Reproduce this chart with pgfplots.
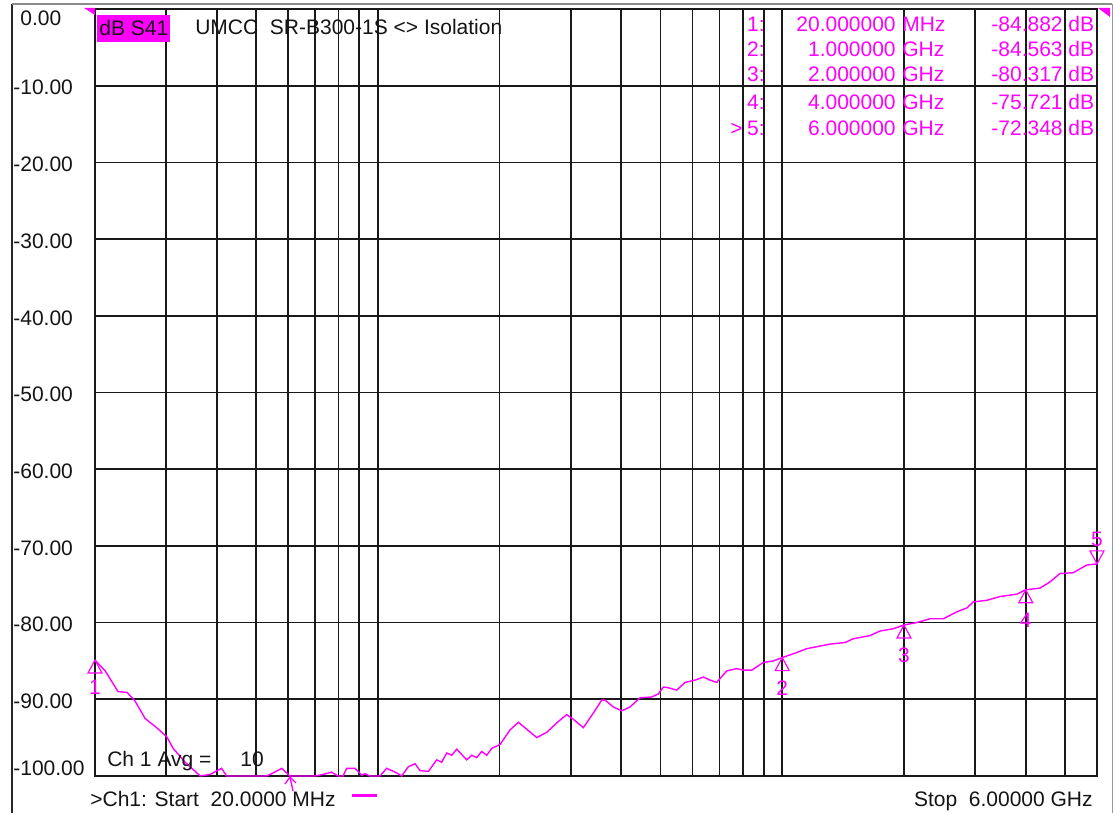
\documentclass[border=0pt]{standalone}
\usepackage{pgfplots}
\pgfplotsset{compat=1.18}
\usepackage{fontspec}
\setmainfont{Liberation Sans}
\definecolor{mag}{RGB}{255,0,255}
\definecolor{txt}{RGB}{20,20,20}
\newcommand\f{\fontsize{12.6}{14}\selectfont}
\pgfdeclareplotmark{tup}{%
 \pgfpathmoveto{\pgfqpoint{0pt}{0pt}}%
 \pgfpathlineto{\pgfqpoint{-4.2pt}{-7.8pt}}%
 \pgfpathlineto{\pgfqpoint{4.2pt}{-7.8pt}}%
 \pgfpathclose\pgfusepathqstroke}
\pgfdeclareplotmark{tdown}{%
 \pgfpathmoveto{\pgfqpoint{0pt}{0pt}}%
 \pgfpathlineto{\pgfqpoint{-4.2pt}{7.8pt}}%
 \pgfpathlineto{\pgfqpoint{4.2pt}{7.8pt}}%
 \pgfpathclose\pgfusepathqstroke}
\begin{document}
\begin{tikzpicture}
\begin{axis}[
  scale only axis, width=601.2pt, height=460.2pt,
  xmode=log, xmin=20, xmax=6000, ymin=-100, ymax=0,
  xtick={30,40,50,60,70,80,90,100,200,300,400,500,600,700,800,900,1000,2000,3000,4000,5000},
  xticklabels={}, minor xtick={}, xminorgrids=false,
  ytick={-100,-90,-80,-70,-60,-50,-40,-30,-20,-10,0},
  yticklabels={{\raisebox{6pt}[\height][\depth]{-100.00}},-90.00,-80.00,-70.00,-60.00,-50.00,-40.00,-30.00,-20.00,-10.00,{\raisebox{-4.2pt}[\height][\depth]{\phantom{-}0.00}}},
  yticklabel style={anchor=west, inner sep=0pt, xshift=-49.2pt, yshift=-1.2pt, font=\f, text=txt},
  major tick length=0pt, minor tick length=0pt,
  grid=major, major grid style={line width=1.05pt, black!90},
  axis line style={line width=1.05pt, black!90},
  clip=false,
]
\addplot[mag, line width=0.85pt] coordinates {
(20,-84.9) (21.2,-86.3) (22.8,-89.0) (24.0,-89.1) (25.1,-90.2) (26.6,-92.5) (28.4,-93.7) (30.1,-94.9) (31.2,-96.4) (33.4,-98.2) (36.4,-100) (38.5,-99.8) (41.1,-99.0) (42.3,-100) (53.0,-100) (54.2,-99.8) (57.9,-99.0) (60.7,-100) (70.0,-100) (73.2,-99.8) (76.9,-99.5) (79.8,-100) (82.1,-100) (83.8,-99.0) (87.9,-99.0) (91.3,-99.9) (93.0,-99.7) (95.7,-100) (101.3,-100) (105.2,-99.0) (111.4,-99.6) (114.6,-100) (119.0,-98.8) (123.7,-98.4) (127.2,-99.3) (133.4,-99.4) (139.9,-97.9) (143.9,-98.2) (148.1,-97.0) (152.4,-97.3) (156.8,-96.5) (166.0,-97.9) (170.8,-97.3) (175.7,-97.6) (180.7,-96.8) (186.0,-97.3) (191.3,-96.4) (200.6,-95.9) (212.3,-94.0) (222.6,-93.0) (233.5,-93.9) (247.2,-95.0) (261.7,-94.3) (279.5,-92.9) (293.2,-92.0) (304.4,-92.6) (322.3,-93.7) (341.2,-91.8) (357.9,-90.1) (364.7,-90.1) (382.3,-91.0) (401.1,-91.5) (420.6,-91.0) (445.2,-89.8) (475.8,-89.7) (494.0,-89.3) (508.3,-88.4) (523.0,-88.5) (548.5,-88.8) (575.1,-87.8) (608.8,-87.5) (638.2,-87.1) (663.0,-87.5) (688.7,-87.8) (729.1,-86.3) (771.9,-86.0) (801.5,-86.2) (840.7,-86.2) (898.0,-85.2) (950.6,-85.0) (1000,-84.563) (1086,-83.9) (1150,-83.4) (1228,-83.1) (1313,-82.8) (1430,-82.6) (1499,-82.1) (1648,-81.7) (1745,-81.1) (1882,-80.8) (2000,-80.317) (2150,-80.0) (2319,-79.5) (2502,-79.5) (2700,-78.6) (2858,-78.1) (2968,-77.3) (3203,-77.1) (3455,-76.6) (3799,-76.3) (4000,-75.721) (4338,-75.5) (4591,-74.7) (4860,-73.6) (5243,-73.5) (5657,-72.5) (6000,-72.348)
};
\addplot[mag, line width=0.7pt, only marks, mark=tup] coordinates {(20,-84.882) (1000,-84.563) (2000,-80.317) (4000,-75.721)};
\addplot[mag, line width=0.7pt, only marks, mark=tdown] coordinates {(6000,-72.348)};
\node[anchor=north, inner sep=0pt, font=\f, text=mag, yshift=-12pt] at (axis cs:20,-84.882) {1};
\node[anchor=north, inner sep=0pt, font=\f, text=mag, yshift=-14pt] at (axis cs:1000,-84.563) {2};
\node[anchor=north, inner sep=0pt, font=\f, text=mag, yshift=-13.2pt] at (axis cs:2000,-80.317) {3};
\node[anchor=north, inner sep=0pt, font=\f, text=mag, yshift=-14pt] at (axis cs:4000,-75.721) {4};
\node[anchor=south, inner sep=0pt, font=\f, text=mag, yshift=10pt] at (axis cs:6000,-72.348) {5};
\end{axis}
\begin{scope}[x=0.6pt, y=-0.6pt, xshift=-57pt, yshift=465.6pt]
\path (0,0) rectangle (1115,813);
\draw[black!85, line width=1.2pt] (12,4) -- (12,813);
\draw[black!45, line width=1pt] (12,4) -- (1112,4);
\draw[black!40, line width=0.6pt] (1112,4) -- (1112,813);
\fill[mag] (84,8) -- (95,8) -- (95,15) -- cycle;
\fill[mag] (1098,8) -- (1110,8) -- (1110,17) -- cycle;
\node[fill=mag, inner xsep=1.2pt, inner ysep=0pt, minimum height=16pt, anchor=west, font=\f, text=txt] at (97,28.5) {dB S41};
\node[anchor=base west, inner sep=0pt, font=\f, text=txt] at (195,35) {UMCC~~SR-B300-1S <> Isolation};
% marker table
\foreach \y/\n/\fr/\u/\v in {32/1:/20.000000/MHz/-84.882, 57/2:/1.000000/GHz/-84.563, 82/3:/2.000000/GHz/-80.317, 110/4:/4.000000/GHz/-75.721, 136/5:/6.000000/GHz/-72.348}{
  \node[anchor=base east, inner sep=0pt, font=\f, text=mag] at (765,\y) {\n};
  \node[anchor=base east, inner sep=0pt, font=\f, text=mag] at (896,\y) {\fr};
  \node[anchor=base west, inner sep=0pt, font=\f, text=mag] at (902,\y) {\u};
  \node[anchor=base east, inner sep=0pt, font=\f, text=mag] at (1063,\y) {\v};
  \node[anchor=base west, inner sep=0pt, font=\f, text=mag] at (1068,\y) {dB};
}
\node[anchor=base west, inner sep=0pt, font=\f, text=mag] at (730,136) {>};
\node[anchor=base west, inner sep=0pt, font=\f, text=txt] at (107,767) {Ch 1 Avg =};
\node[anchor=base west, inner sep=0pt, font=\f, text=txt] at (240,767) {10};
\node[anchor=base west, inner sep=0pt, font=\f, text=txt] at (90,807) {>Ch1: Start~~20.0000 MHz};
\draw[mag, line width=1.8pt] (352,796) -- (377,796);
\node[anchor=base east, inner sep=0pt, font=\f, text=txt] at (1093,807) {Stop~~6.00000 GHz};
\draw[mag, line width=0.8pt] (290,777) -- (293,791);
\draw[mag, line width=0.8pt] (285,784) -- (290,777) -- (296,783);
\end{scope}
\end{tikzpicture}
\end{document}
